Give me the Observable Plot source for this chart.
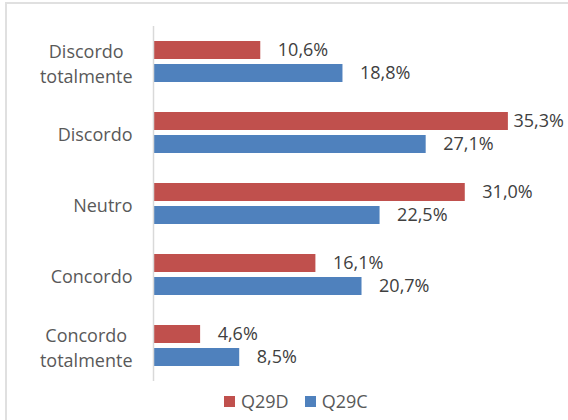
<!DOCTYPE html>
<html>
<head>
<meta charset="utf-8">
<script src="https://cdn.jsdelivr.net/npm/d3@7"></script>
<script src="https://cdn.jsdelivr.net/npm/@observablehq/plot@0.6"></script>
<style>
  html, body { margin: 0; padding: 0; background: #fff; width: 568px; height: 420px; overflow: hidden; }
  #frame { position: absolute; left: 5px; top: 2px; width: 700px; height: 500px;
           border-top: 2px solid #e0e0e0; border-left: 2px solid #e0e0e0; }
  #chart { position: absolute; left: 0; top: 0; }
  #legend { position: absolute; left: 224px; top: 387px; height: 28px; display: flex; align-items: center; }
  #legend .lg-swatches { font-family: "Open Sans", sans-serif !important; font-size: 18px !important;
                         color: #595959 !important; min-height: 0 !important; margin: 0 !important; }
  #legend .lg-swatch { margin-right: 16px !important; }
  #legend .lg-swatch > svg { margin-right: 6px !important; }
</style>
</head>
<body>
<div id="frame"></div>
<div id="chart"></div>
<div id="legend"></div>
<script>
const categories = ["Discordo totalmente", "Discordo", "Neutro", "Concordo", "Concordo totalmente"];
const categoryLabels = ["Discordo\ntotalmente", "Discordo", "Neutro", "Concordo", "Concordo\ntotalmente"];
const series = ["Q29D", "Q29C"];
const q29d = [10.6, 35.3, 31.0, 16.1, 4.6];
const q29c = [18.8, 27.1, 22.5, 20.7, 8.5];
const colors = ["#C0504D", "#4F81BD"];

const data = categories.flatMap((c, i) => [
  {category: c, series: "Q29D", value: q29d[i]},
  {category: c, series: "Q29C", value: q29c[i]}
]);

const fmt = v => v.toFixed(1).replace(".", ",") + "%";

const chart = Plot.plot({
  width: 568,
  height: 386,
  marginLeft: 154,
  marginRight: 13,
  marginTop: 25,
  marginBottom: 5,
  x: {domain: [0, 40], axis: null},
  y: {domain: series, paddingInner: 0.208, paddingOuter: 0.588, axis: null},
  fy: {domain: categories, padding: 0, axis: null},
  color: {domain: series, range: colors},
  style: {fontFamily: "'Open Sans', sans-serif", fontSize: "18px", background: "transparent"},
  marks: [
    Plot.barX(data, {x: "value", y: "series", fy: "category", fill: "series"}),
    Plot.ruleX([0], {stroke: "#d9d9d9", strokeWidth: 1.5, dx: -1}),
    Plot.text(data, {
      x: d => Math.min(d.value + 1.7, 35.8),
      y: "series", fy: "category",
      text: d => fmt(d.value),
      textAnchor: "start", fill: "#404040", fontSize: 18
    }),
    Plot.text(categories, {
      fy: d => d,
      text: (d, i) => categoryLabels[i],
      frameAnchor: "left", textAnchor: "end", dx: -22,
      lineHeight: 1.39, fill: "#595959", fontSize: 18
    })
  ]
});
document.getElementById("chart").append(chart);

// center multi-line category labels (Excel-style)
chart.querySelectorAll("text").forEach(t => {
  const ts = t.querySelectorAll("tspan");
  if (ts.length > 1) {
    const lens = Array.from(ts).map(s => s.getComputedTextLength());
    const m = Math.max(...lens);
    ts.forEach((s, k) => s.setAttribute("dx", -(m - lens[k]) / 2));
  }
});

const legend = Plot.legend({
  color: {domain: series, range: colors},
  legend: "swatches",
  swatchSize: 11,
  className: "lg"
});
document.getElementById("legend").append(legend);
</script>
</body>
</html>
